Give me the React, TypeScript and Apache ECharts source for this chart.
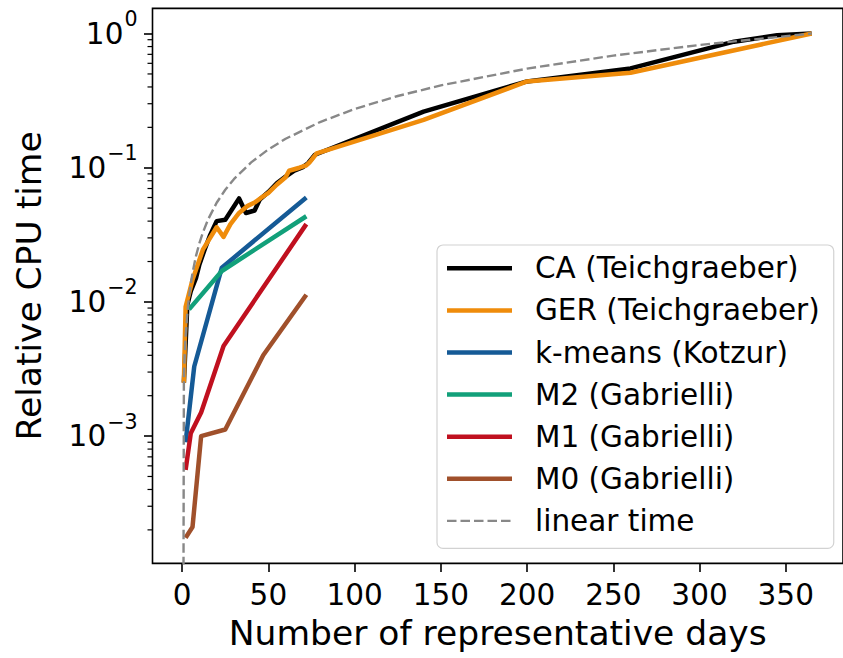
import React, { useEffect, useRef } from 'react';
import * as echarts from 'echarts';

// ---- axis ticks ----
const xTicks = [0, 50, 100, 150, 200, 250, 300, 350];
const yMajorTicks = [1e-3, 1e-2, 1e-1, 1];
const yMinorTicks = [
  2e-4, 3e-4, 4e-4, 5e-4, 6e-4, 7e-4, 8e-4, 9e-4,
  2e-3, 3e-3, 4e-3, 5e-3, 6e-3, 7e-3, 8e-3, 9e-3,
  2e-2, 3e-2, 4e-2, 5e-2, 6e-2, 7e-2, 8e-2, 9e-2,
  2e-1, 3e-1, 4e-1, 5e-1, 6e-1, 7e-1, 8e-1, 9e-1,
];

// ---- series ----
const caDays = [1, 3, 5, 8, 10, 13, 16, 20, 25, 33, 37, 42, 45, 50, 55, 60, 65, 70, 73, 77, 140, 200, 260, 320, 345, 365];
const caTime = [0.0025, 0.0095, 0.012, 0.015, 0.019, 0.0245, 0.031, 0.040, 0.041, 0.059, 0.046, 0.048, 0.058, 0.066, 0.077, 0.086, 0.095, 0.101, 0.108, 0.125, 0.262, 0.44, 0.55, 0.87, 0.97, 1.0];

const gerDays = [1, 2, 6, 12, 20, 24, 28, 33, 38, 42, 46, 50, 55, 60, 62, 68, 72, 74, 78, 140, 200, 260, 365];
const gerTime = [0.0025, 0.0092, 0.0146, 0.0245, 0.036, 0.0305, 0.038, 0.046, 0.052, 0.055, 0.06, 0.065, 0.075, 0.085, 0.095, 0.1, 0.104, 0.11, 0.128, 0.227, 0.44, 0.51, 1.0];

const kmDays = [2, 7, 23, 72];
const kmTime = [0.0009, 0.0033, 0.018, 0.06];

const m2Days = [4, 23, 72];
const m2Time = [0.0088, 0.017, 0.0435];

const m1Days = [2, 5, 11, 24, 72];
const m1Time = [0.00056, 0.00105, 0.0015, 0.0047, 0.038];

const m0Days = [2, 6, 11, 25, 47, 72];
const m0Time = [0.000175, 0.00021, 0.001, 0.00112, 0.004, 0.0113];

const linDays = [0, 1, 1.5, 2, 3, 4, 5, 6, 8, 10, 12, 15, 20, 25, 30, 40, 50, 60, 80, 100, 125, 150, 200, 250, 300, 365];
const linTime = [1e-9, 0.00274, 0.00411, 0.00548, 0.00822, 0.01096, 0.0137, 0.01644, 0.02192, 0.0274, 0.03288, 0.0411, 0.0548, 0.0685, 0.0822, 0.1096, 0.137, 0.1644, 0.2192, 0.274, 0.3425, 0.411, 0.548, 0.685, 0.822, 1.0];

const names = [
  'CA (Teichgraeber)',
  'GER (Teichgraeber)',
  'k-means (Kotzur)',
  'M2 (Gabrielli)',
  'M1 (Gabrielli)',
  'M0 (Gabrielli)',
  'linear time',
];
const colors = ['#000000', '#EF8C0B', '#155A96', '#12A07A', '#C0101F', '#A0502B', '#888888'];

const FONT = 'DejaVu Sans';
const X_MIN = -17.2;
const X_MAX = 383.2;
const zip = (xs: number[], ys: number[]) => xs.map((x, i) => [x, ys[i]]);

// legend handles: 65 x 34 box, line centred
const solidIcon = 'path://M0,0L0.01,0ZM0,14.75h65v4.5h-65ZM65,34L64.99,34Z';
const dashedIcon =
  'path://M0,0L0.01,0Z' +
  'M0,15.8h9.5v2.4h-9.5Z' +
  'M13.5,15.8h9.5v2.4h-9.5Z' +
  'M27,15.8h9.5v2.4h-9.5Z' +
  'M40.5,15.8h9.5v2.4h-9.5Z' +
  'M54,15.8h9.5v2.4h-9.5Z' +
  'M65,34L64.99,34Z';

export default function App() {
  const ref = useRef<HTMLDivElement>(null);
  useEffect(() => {
    if (!ref.current) return;
    const chart = echarts.init(ref.current, undefined, { renderer: 'svg' });
    const seriesData = [
      zip(caDays, caTime),
      zip(gerDays, gerTime),
      zip(kmDays, kmTime),
      zip(m2Days, m2Time),
      zip(m1Days, m1Time),
      zip(m0Days, m0Time),
      zip(linDays, linTime),
    ];
    const lineSeries = seriesData.map((d, i) => ({
      type: 'line',
      name: names[i],
      data: d,
      symbol: 'none',
      clip: true,
      lineStyle: {
        color: colors[i],
        width: i === 6 ? 2.4 : 4.5,
        type: i === 6 ? [9.5, 4] : 'solid',
        join: 'round',
        cap: 'butt',
      },
      itemStyle: { color: colors[i] },
      z: 2,
    }));
    chart.setOption({
      animation: false,
      textStyle: { fontFamily: FONT },
      grid: {
        left: 152.5,
        top: 8.4,
        width: 698,
        height: 555,
        show: true,
        borderColor: '#000',
        borderWidth: 1.6,
        backgroundColor: '#fff',
      },
      xAxis: {
        type: 'value',
        min: X_MIN,
        max: X_MAX,
        axisLine: { show: false, onZero: false },
        splitLine: { show: false },
        axisTick: {
          show: true,
          customValues: xTicks,
          length: 8.5,
          lineStyle: { color: '#000', width: 1.6 },
        },
        axisLabel: {
          customValues: xTicks,
          fontSize: 29.5,
          fontFamily: FONT,
          color: '#000',
          margin: 17,
        },
        name: 'Number of representative days',
        nameLocation: 'middle',
        nameGap: 52,
        nameTextStyle: { fontSize: 34.5, fontFamily: FONT, color: '#000' },
      },
      yAxis: {
        type: 'log',
        logBase: 10,
        min: 1.125e-4,
        max: 1.54,
        axisLine: { show: false, onZero: false },
        splitLine: { show: false },
        axisTick: {
          show: true,
          customValues: yMajorTicks,
          length: 8.5,
          lineStyle: { color: '#000', width: 1.6 },
        },
        axisLabel: {
          customValues: yMajorTicks,
          margin: 15,
          color: '#000',
          formatter: (v: number) => {
            const e = Math.round(Math.log10(v));
            const s = e < 0 ? '\u2212' + Math.abs(e) : String(e);
            return `{b|10}{s|${s}}`;
          },
          rich: {
            b: { fontSize: 29.5, fontFamily: FONT, color: '#000', lineHeight: 30, verticalAlign: 'bottom' },
            s: { fontSize: 20.6, fontFamily: FONT, color: '#000', lineHeight: 21, padding: [0, 0, 19, 1], verticalAlign: 'bottom' },
          },
        },
        name: 'Relative CPU time',
        nameLocation: 'middle',
        nameGap: 106,
        nameTextStyle: { fontSize: 34.5, fontFamily: FONT, color: '#000' },
      },
      legend: {
        orient: 'vertical',
        left: 437,
        top: 245,
        data: names.map((n, i) => ({ name: n, icon: i === 6 ? dashedIcon : solidIcon })),
        selectedMode: false,
        itemWidth: 65,
        itemHeight: 34,
        itemGap: 8.1,
        padding: [6.3, 14, 10.5, 10],
        backgroundColor: '#fff',
        borderColor: '#d2d2d2',
        borderWidth: 1.2,
        borderRadius: 6,
        itemStyle: { borderWidth: 0 },
        textStyle: {
          fontSize: 29.5,
          fontFamily: FONT,
          color: '#000',
          lineHeight: 34,
          padding: [0, 0, 0, 18],
        },
      },
      series: [
        ...lineSeries,
        {
          type: 'custom',
          coordinateSystem: 'cartesian2d',
          clip: false,
          silent: true,
          data: yMinorTicks.map((v) => [X_MIN, v]),
          renderItem: (params: any, api: any) => {
            const p = api.coord([api.value(0), api.value(1)]);
            return {
              type: 'line',
              shape: { x1: p[0] - 5, y1: p[1], x2: p[0], y2: p[1] },
              style: { stroke: '#000', lineWidth: 1.2 },
            };
          },
          z: 5,
        },
      ],
    });
    return () => chart.dispose();
  }, []);
  return (
    <div
      ref={ref}
      style={{ position: 'fixed', left: 0, top: 0, width: 843, height: 658, background: '#fff' }}
    />
  );
}
